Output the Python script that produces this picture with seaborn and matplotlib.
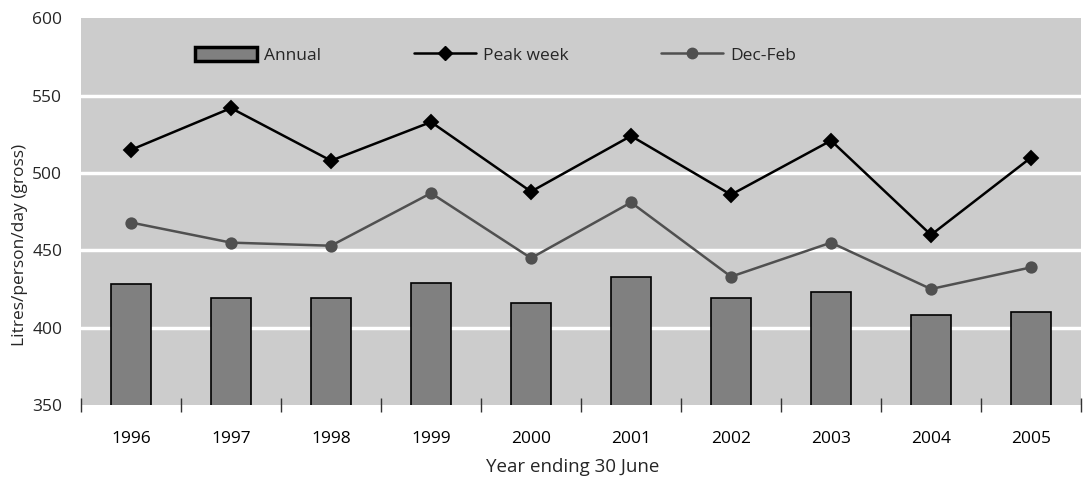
import matplotlib
matplotlib.use("Agg")
import matplotlib.pyplot as plt
from matplotlib.patches import Patch
from matplotlib.lines import Line2D
from matplotlib.ticker import FixedLocator
import seaborn as sns
import pandas as pd

years = ["1996", "1997", "1998", "1999", "2000", "2001", "2002", "2003", "2004", "2005"]
annual = [428, 419, 419, 429, 416, 433, 419, 423, 408, 410]
peak_week = [515, 542, 508, 533, 488, 524, 486, 521, 460, 510]
dec_feb = [468, 455, 453, 487, 445, 481, 433, 455, 425, 439]

df = pd.DataFrame({"year": years, "annual": annual, "peak": peak_week, "decfeb": dec_feb})

sns.set_style("white")
plt.rcParams["font.family"] = ["Open Sans", "DejaVu Sans"]
plt.rcParams["font.size"] = 12.5

bg = "#cccccc"
bar_col = "#808080"
dec_col = "#505050"

fig = plt.figure(figsize=(10.84, 4.78), dpi=100)
ax = fig.add_axes([81 / 1084, 73 / 478, 1000 / 1084, 386.6 / 478])
ax.set_facecolor(bg)

sns.barplot(data=df, x="year", y="annual", color=bar_col, width=0.4,
            edgecolor="black", linewidth=1.2, saturation=1, ax=ax, zorder=3)
sns.pointplot(data=df, x="year", y="peak", color="black", marker="D",
              markersize=6.8, linewidth=1.8, errorbar=None, ax=ax, zorder=4)
sns.pointplot(data=df, x="year", y="decfeb", color=dec_col, marker="o",
              markersize=7.5, linewidth=1.8, errorbar=None, ax=ax, zorder=4)

ax.set_ylim(350, 600)
ax.set_xlim(-0.5, len(years) - 0.5)
ax.set_yticks([350, 400, 450, 500, 550, 600])
for yv in [400, 450, 500, 550]:
    ax.axhline(yv, color="white", linewidth=2.5, zorder=1)

for s in ax.spines.values():
    s.set_visible(False)

# boundary ticks between the year categories
ax.xaxis.set_minor_locator(FixedLocator([i - 0.5 for i in range(len(years) + 1)]))
ax.tick_params(axis="x", which="both", bottom=True)
ax.tick_params(axis="x", which="major", length=0, pad=19, labelsize=12.5, colors="black")
ax.tick_params(axis="x", which="minor", direction="inout", length=10, width=1, color="#333333")
ax.tick_params(axis="y", left=False, pad=10, labelsize=12.5)

ax.set_xlabel("Year ending 30 June", fontsize=13.5)
ax.set_ylabel("Litres/person/day (gross)", fontsize=12.5)
ax.xaxis.set_label_coords(0.492, -0.137)
ax.yaxis.set_label_coords(-0.053, 0.414)

handles = [
    Patch(facecolor=bar_col, edgecolor="black", linewidth=2.5, label="Annual"),
    Line2D([0], [0], color="black", marker="D", markersize=6.8, linewidth=1.8, label="Peak week"),
    Line2D([0], [0], color=dec_col, marker="o", markersize=7.5, linewidth=1.8, label="Dec-Feb"),
]
ax.legend(handles=handles, loc="center left", bbox_to_anchor=(0.114, 0.905), ncol=3,
          frameon=False, borderpad=0, borderaxespad=0, handlelength=3.57,
          handleheight=0.85, handletextpad=0.4, columnspacing=5.35, fontsize=12.5)

fig.savefig("out.png", dpi=100)
